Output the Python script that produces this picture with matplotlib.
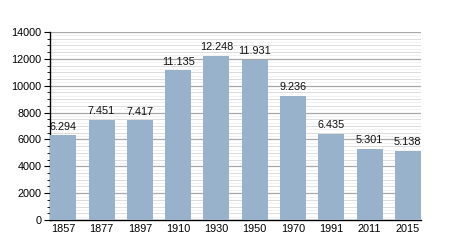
import numpy as np
import matplotlib.pyplot as plt
from matplotlib.ticker import MultipleLocator

# data
years = ["1857", "1877", "1897", "1910", "1930", "1950", "1970", "1991", "2011", "2015"]
population = [6294, 7451, 7417, 11135, 12248, 11931, 9236, 6435, 5301, 5138]
labels = ["6.294", "7.451", "7.417", "11.135", "12.248", "11.931", "9.236", "6.435", "5.301", "5.138"]

plt.rcParams['font.family'] = ['Liberation Sans', 'DejaVu Sans']

fig = plt.figure(figsize=(4.5, 2.5), dpi=100)
ax = fig.add_axes([0.111, 0.12, 0.825, 0.752])

x = np.arange(len(years))
ax.bar(x, population, width=0.68, color="#99b2cc", zorder=3)

for xi, v, lab in zip(x, population, labels):
    ax.text(xi, v + 280, lab, ha="center", va="bottom", fontsize=7.8, color="#111111")

ax.set_xlim(-0.35, 9.35)
ax.set_ylim(0, 14000)
ax.set_xticks(x)
ax.set_xticklabels(years)
ax.yaxis.set_major_locator(MultipleLocator(2000))
ax.yaxis.set_minor_locator(MultipleLocator(500))

# grid: dark at 2000, light at 500, faint in between
ax.grid(which="major", axis="y", color="#a8a8a8", linewidth=0.9, zorder=0)
ax.grid(which="minor", axis="y", color="#dcdcdc", linewidth=0.7, zorder=0)
for yy in np.arange(250, 14000, 500):
    ax.axhline(yy, color="#efefef", linewidth=0.6, zorder=0)

for s in ["top", "right"]:
    ax.spines[s].set_visible(False)
ax.spines["left"].set_linewidth(1.0)
ax.spines["bottom"].set_linewidth(1.0)

ax.tick_params(axis="x", length=0, labelsize=7.8, pad=3)
ax.tick_params(axis="y", which="major", length=4, labelsize=7.8, pad=2)
ax.tick_params(axis="y", which="minor", length=2.5)

fig.savefig("out.png", dpi=100)
